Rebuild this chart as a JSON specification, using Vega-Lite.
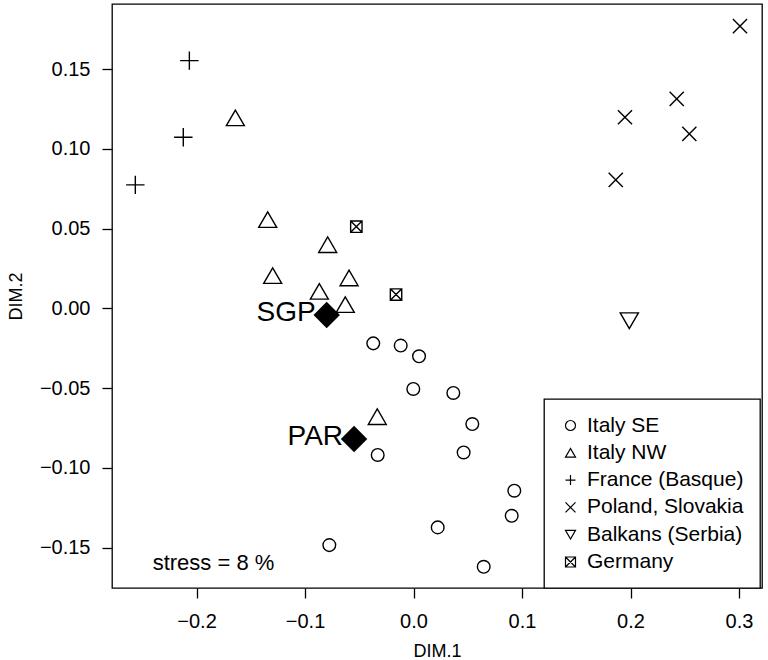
{
  "$schema": "https://vega.github.io/schema/vega-lite/v6.json",
  "autosize": {"type": "none"},
  "width": 650,
  "height": 584,
  "padding": {"left": 112, "top": 4, "right": 6, "bottom": 72},
  "background": "white",
  "config": {
    "font": "Liberation Sans",
    "view": {"stroke": "black", "strokeWidth": 1.3},
    "axis": {
      "grid": false,
      "domain": false,
      "tickColor": "black",
      "tickWidth": 1.3,
      "tickSize": 10,
      "labelColor": "black",
      "labelFont": "Liberation Sans",
      "labelFontSize": 20,
      "titleFont": "Liberation Sans",
      "titleFontSize": 18,
      "titleFontWeight": "normal",
      "titleColor": "black"
    },
    "legend": {
      "strokeColor": "black",
      "strokeWidth": 1.3,
      "fillColor": "white",
      "padding": 16,
      "labelFont": "Liberation Sans",
      "labelFontSize": 21,
      "labelColor": "black",
      "labelOffset": 6,
      "rowPadding": 5.3,
      "symbolSize": 100,
      "symbolStrokeWidth": 1.2,
      "symbolStrokeColor": "black"
    }
  },
  "data": {
    "values": [
      {"x": -0.0371, "y": -0.0219, "group": "Italy SE"},
      {"x": -0.0118, "y": -0.0233, "group": "Italy SE"},
      {"x": 0.0051, "y": -0.0300, "group": "Italy SE"},
      {"x": -0.0002, "y": -0.0505, "group": "Italy SE"},
      {"x": 0.0367, "y": -0.0530, "group": "Italy SE"},
      {"x": 0.0542, "y": -0.0725, "group": "Italy SE"},
      {"x": -0.0330, "y": -0.0919, "group": "Italy SE"},
      {"x": 0.0462, "y": -0.0903, "group": "Italy SE"},
      {"x": 0.0929, "y": -0.1143, "group": "Italy SE"},
      {"x": 0.0905, "y": -0.1300, "group": "Italy SE"},
      {"x": 0.0223, "y": -0.1373, "group": "Italy SE"},
      {"x": -0.0776, "y": -0.1484, "group": "Italy SE"},
      {"x": 0.0647, "y": -0.1620, "group": "Italy SE"},
      {"x": -0.1642, "y": 0.1195, "group": "Italy NW"},
      {"x": -0.1344, "y": 0.0557, "group": "Italy NW"},
      {"x": -0.0791, "y": 0.0400, "group": "Italy NW"},
      {"x": -0.1298, "y": 0.0206, "group": "Italy NW"},
      {"x": -0.0594, "y": 0.0191, "group": "Italy NW"},
      {"x": -0.0868, "y": 0.0107, "group": "Italy NW"},
      {"x": -0.0629, "y": 0.0024, "group": "Italy NW"},
      {"x": -0.0334, "y": -0.0679, "group": "Italy NW"},
      {"x": -0.2066, "y": 0.1554, "group": "France (Basque)"},
      {"x": -0.2122, "y": 0.1073, "group": "France (Basque)"},
      {"x": -0.2564, "y": 0.0775, "group": "France (Basque)"},
      {"x": 0.3009, "y": 0.1770, "group": "Poland, Slovakia"},
      {"x": 0.2426, "y": 0.1314, "group": "Poland, Slovakia"},
      {"x": 0.1949, "y": 0.1199, "group": "Poland, Slovakia"},
      {"x": 0.2542, "y": 0.1095, "group": "Poland, Slovakia"},
      {"x": 0.1864, "y": 0.0806, "group": "Poland, Slovakia"},
      {"x": 0.1989, "y": -0.0077, "group": "Balkans (Serbia)"},
      {"x": -0.0527, "y": 0.0513, "group": "Germany"},
      {"x": -0.0161, "y": 0.0087, "group": "Germany"},
      {"x": -0.0800, "y": -0.0041, "group": "ref", "label": "SGP"},
      {"x": -0.0548, "y": -0.0819, "group": "ref", "label": "PAR"},
      {"x": -0.2404, "y": -0.1599, "group": "note", "label": "stress = 8 %"}
    ]
  },
  "encoding": {
    "x": {
      "field": "x", "type": "quantitative",
      "scale": {"domain": [-0.2779, 0.3212], "nice": false, "zero": false},
      "axis": {"title": "DIM.1", "values": [-0.2, -0.1, 0, 0.1, 0.2, 0.3], "format": ".1f", "labelPadding": 13, "titlePadding": 11}
    },
    "y": {
      "field": "y", "type": "quantitative",
      "scale": {"domain": [-0.1753, 0.1909], "nice": false, "zero": false},
      "axis": {"title": "DIM.2", "values": [-0.15, -0.1, -0.05, 0, 0.05, 0.1, 0.15], "format": ".2f", "labelPadding": 12, "titlePadding": 14}
    },
    "shape": {
      "field": "group", "type": "nominal",
      "scale": {
        "domain": ["Italy SE", "Italy NW", "France (Basque)", "Poland, Slovakia", "Balkans (Serbia)", "Germany"],
        "range": ["circle", "triangle-up", "M-1,0H1M0,-1V1", "M-1,-1L1,1M1,-1L-1,1", "triangle-down", "M-1,-1H1V1H-1ZM-1,-1L1,1M1,-1L-1,1"]
      },
      "legend": {"title": null, "orient": "none", "legendX": 432, "legendY": 395}
    }
  },
  "layer": [
    {
      "transform": [{"filter": "datum.group === 'Italy SE'"}],
      "mark": {"type": "point", "filled": false, "stroke": "black", "strokeWidth": 1.4, "opacity": 1, "size": 160}
    },
    {
      "transform": [{"filter": "datum.group === 'Italy NW'"}],
      "mark": {"type": "point", "filled": false, "stroke": "black", "strokeWidth": 1.4, "opacity": 1, "size": 324}
    },
    {
      "transform": [{"filter": "datum.group === 'France (Basque)'"}],
      "mark": {"type": "point", "filled": false, "stroke": "black", "strokeWidth": 1.4, "opacity": 1, "size": 340}
    },
    {
      "transform": [{"filter": "datum.group === 'Poland, Slovakia'"}],
      "mark": {"type": "point", "filled": false, "stroke": "black", "strokeWidth": 1.4, "opacity": 1, "size": 200}
    },
    {
      "transform": [{"filter": "datum.group === 'Balkans (Serbia)'"}],
      "mark": {"type": "point", "filled": false, "stroke": "black", "strokeWidth": 1.4, "opacity": 1, "size": 330}
    },
    {
      "transform": [{"filter": "datum.group === 'Germany'"}],
      "mark": {"type": "point", "filled": false, "stroke": "black", "strokeWidth": 1.4, "opacity": 1, "size": 130}
    },
    {
      "transform": [{"filter": "datum.group === 'ref'"}],
      "mark": {"type": "point", "shape": "diamond", "filled": true, "color": "black", "size": 700, "opacity": 1},
      "encoding": {"shape": {"value": "diamond"}}
    },
    {
      "transform": [{"filter": "datum.group === 'ref'"}],
      "mark": {"type": "text", "align": "right", "baseline": "middle", "dx": -11, "dy": -2, "fontSize": 28, "font": "Liberation Sans", "color": "black"},
      "encoding": {"text": {"field": "label"}, "shape": {"value": "circle"}}
    },
    {
      "transform": [{"filter": "datum.group === 'note'"}],
      "mark": {"type": "text", "align": "left", "baseline": "middle", "fontSize": 22, "font": "Liberation Sans", "color": "black"},
      "encoding": {"text": {"field": "label"}, "shape": {"value": "circle"}}
    }
  ]
}
